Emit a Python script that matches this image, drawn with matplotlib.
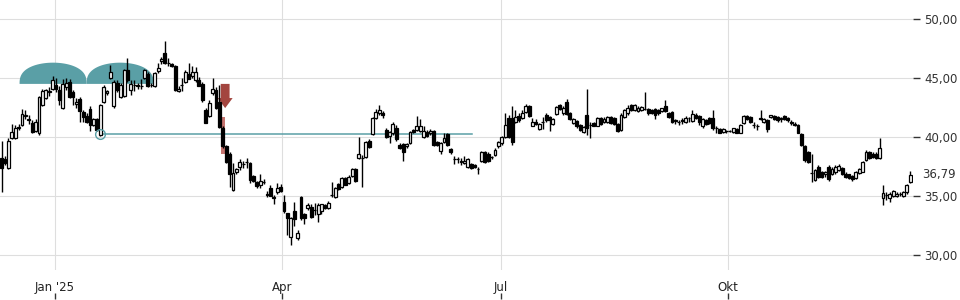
import numpy as np
import matplotlib
matplotlib.use('agg')
import matplotlib.pyplot as plt
import matplotlib.transforms as mtransforms
from matplotlib.patches import Polygon, Rectangle, FancyArrow

# daily candles (Dec 2024 - Dec 2025)
opens = [38.2, 38.1, 37.4, 39.9, 39.9, 40.8, 41.0, 41.8, 41.5, 41.2,
         40.5, 40.3, 42.7, 43.3, 43.85, 44.1, 44.4, 44.0, 42.5, 44.2,
         44.7, 43.8, 42.8, 43.2, 42.1, 41.8, 42.4, 41.0, 41.5, 40.15,
         43.0, 43.7, 45.0, 42.6, 44.6, 43.4, 43.5, 45.7, 44.0, 44.4,
         44.4, 44.3, 45.0, 45.3, 44.4, 44.3, 45.6, 46.4, 47.1, 46.3,
         46.2, 46.0, 43.9, 44.4, 44.7, 45.3, 45.2, 44.8, 44.8, 44.5,
         42.3, 41.8, 43.7, 44.0, 43.0, 40.8, 39.2, 38.6, 35.5, 37.0,
         37.5, 37.7, 37.85, 37.8, 36.7, 36.2, 35.9, 36.2, 35.2, 35.7,
         34.9, 35.3, 35.8, 34.5, 33.55, 31.5, 33.7, 31.4, 34.9, 33.5,
         34.0, 34.1, 33.8, 33.5, 33.7, 34.2, 34.0, 35.1, 34.9, 36.0,
         35.8, 36.5, 36.1, 36.7, 37.3, 38.2, 38.2, 38.3, 39.65, 40.25,
         41.6, 42.0, 42.0, 40.6, 40.1, 40.3, 40.8, 39.3, 39.4, 39.2,
         39.5, 40.6, 40.6, 40.5, 40.0, 40.4, 40.35, 40.5, 39.6, 38.8,
         39.6, 40.25, 39.0, 38.1, 38.1, 37.9, 37.8, 37.5, 37.7, 37.6,
         37.3, 38.0, 38.7, 38.6, 38.3, 38.5, 39.2, 39.5, 40.0, 41.6,
         41.6, 41.3, 41.8, 41.6, 42.1, 42.65, 40.95, 41.3, 40.7, 41.3,
         41.9, 41.7, 41.1, 41.95, 42.7, 42.0, 43.0, 42.0, 41.2, 41.35,
         41.0, 40.4, 41.85, 41.0, 41.2, 40.95, 41.6, 41.3, 41.3, 41.7,
         41.6, 41.1, 40.6, 41.7, 42.0, 42.7, 42.3, 42.2, 42.3, 42.4,
         42.4, 42.3, 42.4, 42.3, 42.2, 42.6, 42.0, 42.1, 41.4, 41.3,
         41.4, 41.3, 41.6, 41.35, 41.9, 41.8, 40.9, 41.4, 41.6, 41.6,
         40.8, 40.7, 40.4, 40.5, 40.5, 40.4, 40.7, 40.35, 41.2, 41.8,
         41.7, 41.0, 40.9, 41.6, 41.3, 41.4, 41.7, 41.8, 41.7, 41.5,
         41.8, 41.6, 41.3, 41.1, 41.0, 40.25, 39.25, 38.75, 36.95, 36.35,
         37.5, 37.0, 36.9, 37.5, 36.9, 37.0, 37.2, 37.4, 36.9, 36.85,
         36.7, 36.5, 36.95, 37.05, 38.05, 38.75, 38.6, 38.6, 38.25, 34.8,
         35.1, 34.8, 35.0, 35.0, 35.2, 35.0, 35.3, 36.2]
highs = [39.7, 38.4, 39.9, 41.1, 41.0, 41.1, 42.4, 42.3, 41.9, 41.4,
         41.5, 43.5, 44.1, 44.1, 44.2, 45.2, 45.0, 44.3, 44.9, 45.0,
         44.9, 44.0, 43.3, 43.4, 42.3, 42.0, 42.6, 41.6, 41.6, 42.8,
         44.4, 44.0, 46.1, 44.8, 44.8, 44.6, 45.8, 46.7, 44.8, 44.8,
         44.6, 44.9, 45.8, 45.5, 44.6, 45.5, 46.3, 46.8, 48.1, 46.7,
         46.3, 46.1, 44.3, 45.0, 45.7, 46.3, 46.0, 45.9, 45.1, 44.7,
         42.5, 43.1, 45.0, 44.2, 44.4, 40.9, 39.3, 38.7, 37.8, 37.4,
         38.1, 38.0, 38.2, 37.9, 36.8, 36.3, 36.9, 36.4, 35.4, 35.9,
         35.1, 36.1, 36.0, 35.1, 33.6, 33.2, 34.5, 32.1, 35.0, 33.6,
         34.4, 34.3, 34.4, 34.4, 34.3, 34.3, 34.6, 36.2, 35.8, 36.1,
         36.6, 36.6, 36.8, 37.4, 37.4, 40.0, 38.5, 39.7, 39.8, 41.7,
         42.4, 42.7, 42.2, 40.8, 40.5, 41.3, 41.0, 39.5, 39.5, 39.5,
         40.5, 40.7, 41.8, 41.5, 40.9, 40.6, 40.7, 40.6, 39.7, 39.6,
         40.3, 40.3, 39.1, 38.4, 38.3, 38.2, 38.4, 38.2, 37.8, 37.7,
         37.5, 38.8, 38.8, 38.7, 38.4, 39.1, 39.7, 40.1, 42.0, 41.9,
         42.6, 42.3, 42.0, 42.3, 42.8, 42.7, 41.6, 41.5, 41.2, 41.7,
         42.0, 41.8, 41.6, 42.6, 42.8, 42.6, 43.2, 42.1, 41.6, 41.4,
         41.1, 40.9, 44.05, 41.3, 41.3, 41.7, 41.7, 41.7, 41.8, 41.8,
         41.7, 41.2, 42.0, 42.4, 42.7, 42.8, 42.8, 42.6, 42.6, 43.8,
         42.5, 42.4, 42.5, 42.4, 42.5, 43.1, 42.1, 42.2, 41.5, 41.4,
         41.6, 41.8, 41.7, 42.3, 42.0, 41.9, 41.6, 41.5, 41.7, 42.3,
         40.9, 40.8, 40.8, 40.6, 40.6, 40.8, 40.8, 41.1, 41.9, 41.9,
         41.8, 41.3, 41.1, 42.3, 41.6, 41.5, 41.9, 41.9, 41.8, 41.7,
         41.9, 41.7, 41.4, 41.3, 41.1, 40.3, 39.3, 38.8, 38.6, 37.3,
         37.6, 37.1, 37.1, 37.6, 37.5, 37.6, 37.7, 37.5, 37.0, 36.9,
         36.8, 37.1, 37.4, 38.0, 38.9, 38.8, 38.7, 38.7, 39.9, 35.9,
         35.3, 35.3, 35.5, 35.3, 35.3, 35.4, 36.0, 37.1]
lows = [35.3, 37.6, 37.3, 39.8, 39.8, 40.6, 40.9, 41.5, 41.1, 40.3,
        40.4, 40.2, 42.6, 43.2, 43.5, 44.0, 43.8, 42.7, 42.4, 44.0,
        43.3, 42.7, 42.5, 41.3, 41.3, 41.2, 40.55, 40.9, 40.5, 40.1,
        42.9, 43.6, 44.9, 42.5, 43.8, 43.3, 43.4, 44.7, 43.6, 43.9,
        44.1, 44.1, 44.9, 44.2, 44.2, 44.2, 45.4, 46.2, 46.2, 46.0,
        45.9, 43.9, 43.8, 43.9, 44.6, 44.9, 45.0, 44.7, 44.3, 43.0,
        41.2, 41.7, 43.6, 42.4, 40.8, 39.1, 37.8, 35.8, 35.4, 36.9,
        37.2, 37.4, 37.4, 36.1, 36.2, 35.7, 35.7, 36.0, 34.9, 35.0,
        34.3, 35.2, 35.3, 33.6, 31.7, 30.85, 32.5, 31.3, 33.0, 32.6,
        33.8, 33.1, 33.4, 32.8, 33.5, 33.9, 33.9, 34.9, 34.8, 35.5,
        35.7, 35.9, 36.0, 36.6, 36.2, 38.1, 35.8, 38.2, 39.1, 40.2,
        41.5, 41.9, 41.6, 39.9, 39.5, 40.2, 39.7, 39.0, 38.0, 39.1,
        39.4, 40.3, 40.5, 40.4, 39.9, 40.0, 40.2, 39.2, 39.2, 38.6,
        39.5, 39.2, 38.6, 37.7, 37.8, 37.6, 37.7, 37.4, 37.3, 37.4,
        36.9, 37.9, 37.8, 37.9, 38.1, 38.4, 39.1, 39.3, 39.9, 39.9,
        39.3, 41.2, 41.3, 41.5, 42.0, 41.7, 40.9, 41.0, 40.6, 40.7,
        41.3, 40.5, 41.0, 41.9, 42.3, 41.9, 41.9, 41.4, 41.1, 40.8,
        40.5, 40.3, 40.2, 39.9, 40.9, 40.9, 41.0, 41.2, 41.2, 41.1,
        41.0, 40.4, 40.5, 41.6, 41.9, 42.2, 42.2, 42.1, 42.2, 42.3,
        41.9, 41.95, 41.5, 41.9, 42.1, 42.1, 41.6, 41.2, 41.1, 41.0,
        41.1, 41.2, 41.3, 41.3, 41.5, 41.0, 40.8, 41.0, 41.1, 40.6,
        40.3, 40.3, 40.3, 40.3, 40.4, 40.3, 40.3, 40.3, 41.1, 41.4,
        41.2, 40.8, 40.6, 41.4, 41.2, 40.4, 41.6, 41.4, 41.3, 41.3,
        41.4, 41.3, 41.0, 40.9, 40.3, 39.2, 37.9, 37.8, 36.2, 36.3,
        36.5, 36.5, 36.6, 36.3, 36.8, 36.9, 37.1, 36.8, 36.5, 36.4,
        36.3, 36.4, 36.9, 37.0, 38.0, 38.1, 38.2, 38.1, 38.1, 34.2,
        34.7, 34.5, 34.9, 34.9, 35.0, 34.9, 35.2, 36.1]
closes = [37.4, 37.8, 39.7, 40.4, 40.8, 40.85, 41.95, 41.85, 41.45, 40.45,
          41.3, 43.4, 43.9, 44.0, 43.9, 44.8, 44.1, 43.1, 44.5, 44.6,
          43.4, 43.4, 43.0, 42.2, 41.7, 41.3, 41.0, 41.5, 40.6, 42.7,
          44.2, 43.9, 45.5, 44.7, 44.0, 44.4, 45.7, 44.8, 44.5, 44.4,
          44.3, 44.35, 45.7, 44.3, 44.4, 45.4, 45.85, 46.6, 46.3, 46.3,
          46.0, 44.0, 44.1, 44.4, 45.5, 44.9, 45.5, 45.5, 44.3, 43.1,
          41.2, 42.9, 44.1, 42.5, 40.85, 39.2, 37.9, 36.9, 36.95, 37.3,
          37.9, 37.75, 37.85, 36.35, 36.3, 35.85, 36.3, 36.2, 35.1, 35.0,
          34.85, 35.7, 35.4, 33.7, 33.1, 33.1, 33.05, 31.9, 33.1, 33.1,
          34.2, 33.2, 33.8, 34.2, 34.3, 33.95, 34.4, 35.1, 35.7, 35.6,
          36.5, 35.95, 36.6, 37.3, 36.3, 38.6, 38.2, 39.6, 39.15, 41.6,
          42.15, 42.3, 41.9, 40.0, 40.4, 41.1, 39.8, 39.1, 38.75, 39.4,
          40.4, 40.4, 40.9, 40.9, 40.5, 40.1, 40.55, 39.3, 39.3, 39.5,
          39.9, 39.3, 38.7, 38.1, 38.1, 38.0, 38.0, 38.1, 37.4, 37.45,
          37.3, 38.7, 37.9, 38.0, 38.3, 38.9, 39.6, 40.0, 41.0, 40.0,
          39.6, 41.7, 41.4, 42.0, 42.65, 41.8, 41.3, 41.1, 41.1, 41.3,
          41.45, 41.4, 41.5, 42.55, 42.4, 42.5, 41.95, 41.5, 41.5, 40.95,
          40.6, 40.85, 40.75, 41.0, 40.95, 41.6, 41.1, 41.5, 41.7, 41.2,
          41.1, 40.5, 41.85, 42.3, 42.5, 42.3, 42.7, 42.5, 42.55, 42.4,
          42.0, 42.05, 41.9, 42.0, 42.45, 42.2, 41.7, 41.3, 41.35, 41.3,
          41.35, 41.6, 41.6, 41.95, 41.6, 41.3, 41.5, 41.1, 41.2, 40.8,
          40.8, 40.35, 40.7, 40.5, 40.55, 40.75, 40.35, 41.0, 41.8, 41.5,
          41.3, 41.0, 40.9, 41.5, 41.5, 40.7, 41.85, 41.5, 41.4, 41.6,
          41.5, 41.4, 41.2, 41.0, 40.35, 39.3, 38.05, 37.9, 36.95, 37.2,
          36.6, 36.6, 37.0, 36.4, 37.3, 37.5, 37.55, 36.9, 36.6, 36.5,
          36.4, 37.05, 37.3, 37.9, 38.7, 38.2, 38.3, 38.2, 39.1, 35.25,
          35.1, 35.2, 35.4, 35.2, 35.15, 35.3, 35.9, 36.79]

month_pos = [15.6, 82.4, 146.8, 213.5]
month_labels = ["Jan '25", "Apr", "Jul", "Okt"]
y_ticks = [30, 35, 40, 45, 50]
last_price = 36.79

# pattern overlays (double top, neckline, sell signal)
top_edges = [5.3, 25.0, 44.7]
top_base = 44.5
top_height = 1.8
neck_start, neck_end, neck_level = 29, 138.2, 40.23
signal_idx, signal_low, signal_high = 65, 38.55, 41.7
arrow_x, arrow_top, arrow_tip = 65.7, 44.5, 42.45

teal = '#5a9fa6'
red = '#9e3b34'


def fmt(v):
    return f"{v:.2f}".replace('.', ',')


def main():
    o = np.array(opens)
    h = np.array(highs)
    l = np.array(lows)
    c = np.array(closes)
    x = np.arange(len(o))
    up = c >= o

    fig = plt.figure(figsize=(9.6, 3.0), dpi=100)
    ax = fig.add_axes([0, 0.1, 913 / 960, 0.9])

    # double top domes (slightly flattened arches)
    t = np.linspace(0, np.pi, 120)
    for a, b in zip(top_edges[:-1], top_edges[1:]):
        cx, rx = (a + b) / 2, (b - a) / 2
        pts = np.column_stack([cx - rx * np.cos(t),
                               top_base + top_height * np.sin(t) ** 0.75])
        ax.add_patch(Polygon(pts, closed=True, facecolor=teal, edgecolor='none', zorder=1.5))

    ax.plot([neck_start, neck_end], [neck_level, neck_level], color=teal, lw=1.1, zorder=2)
    ax.plot(neck_start, neck_level, 'o', ms=7, mfc='none', mec=teal, mew=1, zorder=5)

    ax.add_patch(Rectangle((signal_idx - 0.6, signal_low), 1.2, signal_high - signal_low,
                           facecolor='#b4463f', alpha=0.75, edgecolor='none', zorder=2.5))
    ax.add_patch(FancyArrow(arrow_x, arrow_top, 0, arrow_tip - arrow_top, width=2.6,
                            head_width=4.4, head_length=0.85, length_includes_head=True,
                            facecolor=red, edgecolor='none', alpha=0.95, zorder=2.5))

    # candles
    ax.vlines(x, l, h, color='black', lw=1.0, zorder=3)
    bottom = np.minimum(o, c)
    height = np.abs(c - o)
    ax.bar(x[up], height[up], bottom=bottom[up], width=0.85, facecolor='white',
           edgecolor='black', linewidth=0.9, zorder=4)
    ax.bar(x[~up], height[~up], bottom=bottom[~up], width=0.85, facecolor='black',
           edgecolor='black', linewidth=0.9, zorder=4)

    ax.set_xlim(-0.45, 267.8)
    ax.set_ylim(28.73, 51.61)
    for s in ax.spines.values():
        s.set_visible(False)
    ax.grid(color='#dedede', lw=0.8)
    ax.set_axisbelow(True)

    ax.yaxis.tick_right()
    ax.set_yticks(y_ticks)
    ax.set_yticklabels([fmt(v) for v in y_ticks])
    ax.tick_params(axis='y', length=5, width=1, color='#333333', labelcolor='#333333',
                   labelsize=8.5, pad=3)

    ax.set_xticks(month_pos)
    ax.set_xticklabels(month_labels)
    ax.tick_params(axis='x', length=0, pad=8, labelsize=8.5, labelcolor='#222222')
    sec = ax.secondary_xaxis(-0.085)
    sec.set_xticks(month_pos)
    sec.set_xticklabels([])
    sec.tick_params(length=4, width=1, color='#333333', direction='out')
    sec.spines['bottom'].set_visible(False)

    trans = mtransforms.blended_transform_factory(ax.transAxes, ax.transData)
    ax.text(1.0099, last_price, fmt(last_price), transform=trans, ha='left', va='center',
            fontsize=8.5, color='#333333')

    fig.savefig('out.png', dpi=100)


if __name__ == "__main__":
    main()
